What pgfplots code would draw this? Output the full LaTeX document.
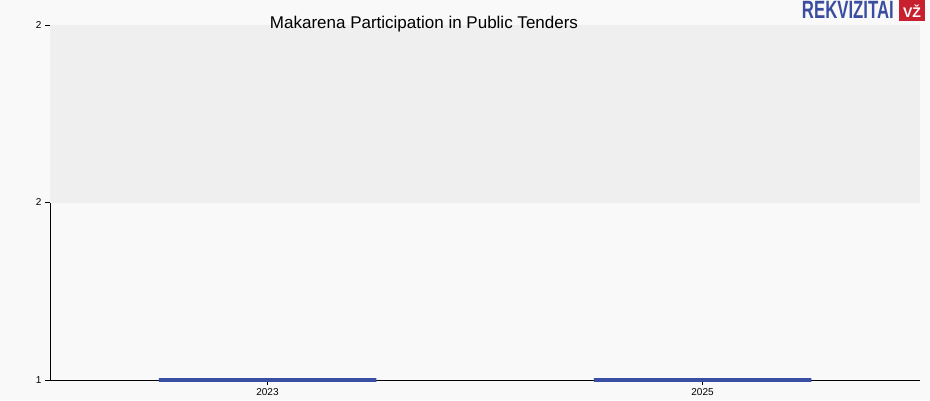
\documentclass[border=0pt]{standalone}
\usepackage{pgfplots}
\pgfplotsset{compat=1.18}
\usepackage{fontspec}
\setmainfont{Liberation Sans}
\definecolor{bgpage}{HTML}{F9F9F9}
\definecolor{bandtop}{HTML}{EFEFEF}
\definecolor{barblue}{HTML}{3A4EA3}
\definecolor{logoblue}{HTML}{3A4DA0}
\definecolor{logored}{HTML}{C8202F}

\begin{document}
\begin{tikzpicture}[x=1pt,y=1pt]
\useasboundingbox (0,0) rectangle (930,400);
\fill[bgpage] (0,0) rectangle (930,400);
\begin{axis}[
    at={(50pt,20pt)}, anchor=south west,
    scale only axis,
    width=870pt, height=355pt,
    xmin=-0.5, xmax=1.5,
    ymin=1, ymax=2,
    xtick={0,1}, xticklabels={2023,2025},
    ytick={1,1.5,2}, yticklabels={1,2,2},
    axis x line*=bottom, axis y line*=left,
    axis line style={black, line width=0.8pt},
    tick style={black, line width=0.8pt},
    tick align=outside, major tick length=5pt,
    x axis line style={-}, y axis line style={-},
    ticklabel style={font=\fontsize{10}{11}\selectfont},
    /pgf/number format/assume math mode=true,
    axis background/.style={fill=bgpage},
    clip=false,
]
\fill[bandtop] (axis cs:-0.5,1.5) rectangle (axis cs:1.5,2);
\addplot[ybar, bar width=0.5, fill=barblue, draw=barblue, line width=3.5pt]
    coordinates {(0,1) (1,1)};
\end{axis}
\node[anchor=base, font=\fontsize{17}{19}\selectfont] at (424,371) {Makarena Participation in Public Tenders};
\node[anchor=base east, inner sep=0pt, text=logoblue, font=\bfseries\fontsize{25}{26}\selectfont]
    at (894,381) {\scalebox{0.67}[1]{REKVIZITAI}};
\fill[logored] (899,379) rectangle (925,400);
\node[text=white, inner sep=0pt, font=\bfseries\fontsize{14}{15}\selectfont] at (912,389) {VŽ};
\end{tikzpicture}
\end{document}
